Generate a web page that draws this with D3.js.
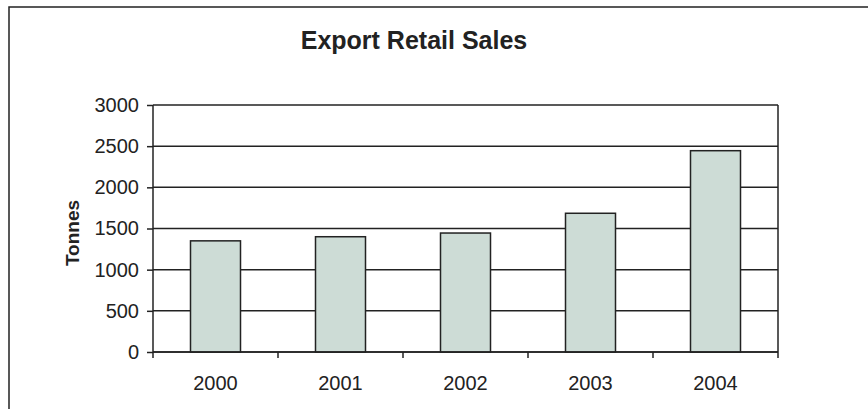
<html>
    <head>
        <title>Export Retail Sales</title>
        <script src="https://d3js.org/d3.v7.min.js"></script>
    </head>
    <body>
        <svg id="chart" width="868" height="409"></svg>
        <script>
            const years = ["2000","2001","2002","2003","2004"];
            const tonnes = [1350, 1400, 1445, 1685, 2445];
            const yTicks = [0, 500, 1000, 1500, 2000, 2500, 3000];

            const svg = d3.select("#chart");
            const plotLeft = 153, plotRight = 778, plotTop = 105, plotBottom = 352;

            // outer frame runs off the picture on the right and bottom
            svg.append("rect")
                .attr("x", 9).attr("y", 7)
                .attr("width", 900).attr("height", 450)
                .attr("fill", "#fff")
                .attr("stroke", "#222")
                .attr("stroke-width", 1.5);

            const x = d3.scaleBand()
                        .domain(years)
                        .range([plotLeft, plotRight])
                        .paddingInner(0.6)
                        .paddingOuter(0.3);
            const y = d3.scaleLinear()
                        .domain([0, 3000])
                        .range([plotBottom, plotTop]);

            //gridlines
            svg.append("g").selectAll("line.grid").data(yTicks)
                .join("line")
                .attr("class", "grid")
                .attr("x1", plotLeft).attr("x2", plotRight)
                .attr("y1", d => y(d)).attr("y2", d => y(d))
                .attr("stroke", "#222")
                .attr("stroke-width", 1.5);

            // right side of plot box
            svg.append("line")
                .attr("x1", plotRight).attr("x2", plotRight)
                .attr("y1", plotTop).attr("y2", plotBottom)
                .attr("stroke", "#222")
                .attr("stroke-width", 1.5);

            //bars
            svg.append("g").selectAll("rect.bar").data(years)
                .join("rect")
                .attr("class", "bar")
                .attr("x", d => x(d))
                .attr("width", x.bandwidth())
                .attr("y", (d, i) => y(tonnes[i]))
                .attr("height", (d, i) => plotBottom - y(tonnes[i]))
                .attr("fill", "#cddcd6")
                .attr("stroke", "#222")
                .attr("stroke-width", 1.5);

            //y axis
            const yAxis = svg.append("g")
                .attr("transform", `translate(${plotLeft},0)`)
                .call(d3.axisLeft(y).tickValues(yTicks).tickFormat(d3.format("d")).tickSize(6).tickPadding(8));
            yAxis.selectAll("path, line").attr("stroke", "#222").attr("stroke-width", 1.5);
            yAxis.select(".domain").attr("d", `M0,${plotTop}V${plotBottom}`);
            yAxis.selectAll("text")
                .attr("font-family", "Liberation Sans, Arial, sans-serif")
                .attr("font-size", 20)
                .attr("fill", "#222");

            //x axis: ticks between categories
            const bounds = d3.range(years.length + 1).map(i => plotLeft + i * x.step());
            const xg = svg.append("g");
            xg.append("line")
                .attr("x1", plotLeft).attr("x2", plotRight)
                .attr("y1", plotBottom).attr("y2", plotBottom)
                .attr("stroke", "#222").attr("stroke-width", 1.5);
            xg.selectAll("line.tick").data(bounds)
                .join("line")
                .attr("class", "tick")
                .attr("x1", d => d).attr("x2", d => d)
                .attr("y1", plotBottom).attr("y2", plotBottom + 6)
                .attr("stroke", "#222").attr("stroke-width", 1.5);
            xg.selectAll("text").data(years)
                .join("text")
                .attr("x", d => x(d) + x.bandwidth() / 2)
                .attr("y", 390)
                .attr("text-anchor", "middle")
                .attr("font-family", "Liberation Sans, Arial, sans-serif")
                .attr("font-size", 20)
                .attr("fill", "#222")
                .text(d => d);

            //titles
            svg.append("text")
                .attr("x", 414).attr("y", 49)
                .attr("text-anchor", "middle")
                .attr("font-family", "Liberation Sans, Arial, sans-serif")
                .attr("font-size", 25)
                .attr("font-weight", "bold")
                .attr("fill", "#222")
                .text("Export Retail Sales");
            svg.append("text")
                .attr("transform", "translate(79,233) rotate(-90)")
                .attr("text-anchor", "middle")
                .attr("font-family", "Liberation Sans, Arial, sans-serif")
                .attr("font-size", 19)
                .attr("font-weight", "bold")
                .attr("fill", "#222")
                .text("Tonnes");
        </script>
    </body>
</html>

<style>
    body { margin: 0; }
</style>
